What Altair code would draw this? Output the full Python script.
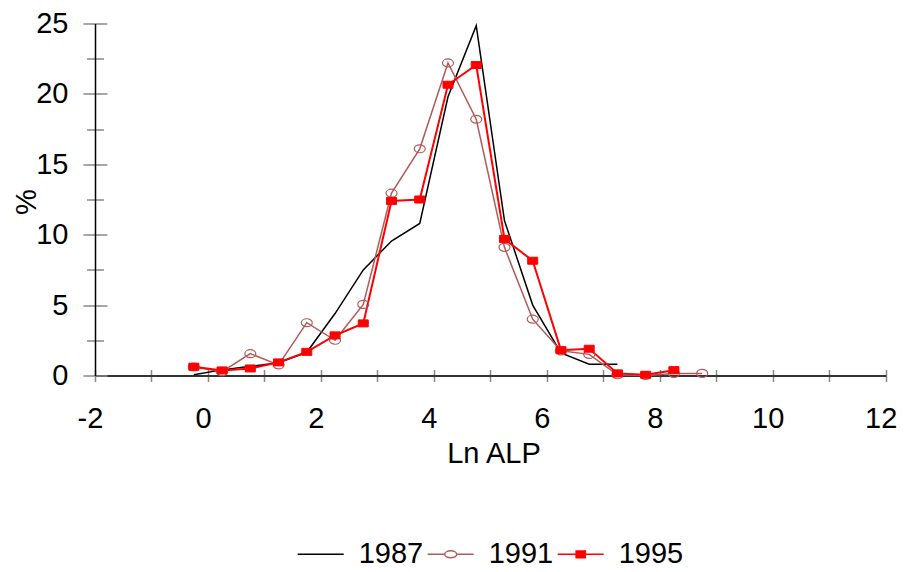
import altair as alt
import pandas as pd

# ---- data ----
ln_alp = [-0.25, 0.25, 0.75, 1.25, 1.75, 2.25, 2.75, 3.25, 3.75, 4.25,
          4.75, 5.25, 5.75, 6.25, 6.75, 7.25, 7.75, 8.25, 8.75]

pct_1987 = [0.05, 0.4, 0.65, 0.9, 1.65, 4.4, 7.5, 9.55, 10.8, 19.8,
            24.85, 11.0, 5.0, 1.6, 0.8, 0.8]
pct_1991 = [0.6, 0.27, 1.55, 0.75, 3.75, 2.5, 5.05, 12.95, 16.1, 22.2,
            18.2, 9.1, 4.0, 1.75, 1.5, 0.05, 0.0, 0.15, 0.15]
pct_1995 = [0.62, 0.36, 0.5, 0.93, 1.68, 2.85, 3.7, 12.4, 12.5, 20.65,
            22.05, 9.7, 8.15, 1.8, 1.9, 0.15, 0.05, 0.38]

years = ["1987", "1991", "1995"]
x_label_values = [-2, 0, 2, 4, 6, 8, 10, 12]
x_tick_values = list(range(-2, 13))
y_major_values = [0, 5, 10, 15, 20, 25]
y_minor_values = [2.5, 7.5, 12.5, 17.5, 22.5]

rows = []
for yr, vals in zip(years, [pct_1987, pct_1991, pct_1995]):
    for xv, yv in zip(ln_alp, vals):
        rows.append({"year": yr, "x": xv, "pct": yv})
df = pd.DataFrame(rows)

FONT = "Liberation Sans"
BROWN = "#b35959"
XS = alt.Scale(domain=[-2, 12], nice=False, zero=False)
YS = alt.Scale(domain=[0, 25], nice=False, zero=False)

ELLIPSE = "M-1,0A1,0.72,0,1,0,1,0A1,0.72,0,1,0,-1,0Z"
RECT = "M-1,-0.7H1V0.7H-1Z"

base = alt.Chart(df)

main_x_axis = alt.Axis(values=x_label_values, orient="bottom", ticks=False, tickSize=0,
                       grid=False, domainColor="#333333", domainWidth=2,
                       labelFont=FONT, labelFontSize=29, labelColor="black",
                       labelExpr="'' + datum.value",
                       labelPadding=29, labelOffset=-5, labelFlush=False, labelOverlap=False,
                       title="Ln ALP", titleFont=FONT, titleFontSize=29,
                       titleFontWeight="normal", titleColor="black",
                       titleX=398.5, titleY=87, titleBaseline="alphabetic", titleAlign="center")
main_y_axis = alt.Axis(values=y_major_values, orient="left", ticks=False, tickSize=0,
                       grid=False, domainColor="black", domainWidth=1.5,
                       labelFont=FONT, labelFontSize=29, labelColor="black",
                       labelPadding=27, labelFlush=False, labelOverlap=False,
                       title="%", titleFont=FONT, titleFontSize=29,
                       titleFontWeight="normal", titleColor="black", titleAngle=270,
                       titleX=-68.5, titleY=178, titleBaseline="middle", titleAlign="center")

line87 = base.transform_filter(alt.datum.year == "1987").mark_line(
    color="black", strokeWidth=1.5).encode(
    x=alt.X("x:Q", scale=XS, axis=main_x_axis),
    y=alt.Y("pct:Q", scale=YS, axis=main_y_axis))

line91 = base.transform_filter(alt.datum.year == "1991").mark_line(
    color=BROWN, strokeWidth=1.5).encode(
    x=alt.X("x:Q", scale=XS, axis=None),
    y=alt.Y("pct:Q", scale=YS, axis=None))

line95 = base.transform_filter(alt.datum.year == "1995").mark_line(
    color="red", strokeWidth=2).encode(
    x=alt.X("x:Q", scale=XS, axis=None),
    y=alt.Y("pct:Q", scale=YS, axis=None))

pts91 = base.transform_filter(alt.datum.year == "1991").mark_point(
    shape=ELLIPSE, size=121, filled=False, stroke=BROWN, strokeWidth=1.2, opacity=1).encode(
    x=alt.X("x:Q", scale=XS, axis=None),
    y=alt.Y("pct:Q", scale=YS, axis=None))

pts95 = base.transform_filter(alt.datum.year == "1995").mark_point(
    shape=RECT, size=100, filled=True, fill="red", stroke="red", strokeWidth=1, opacity=1).encode(
    x=alt.X("x:Q", scale=XS, axis=None),
    y=alt.Y("pct:Q", scale=YS, axis=None))

ticks_major = base.transform_filter("false").mark_line().encode(
    x=alt.X("x:Q", scale=XS, axis=alt.Axis(values=x_tick_values, orient="bottom", domain=False,
                                           labels=False, title=None, grid=False, ticks=True,
                                           tickSize=12, offset=-6, tickColor="#888888",
                                           tickWidth=1.5)),
    y=alt.Y("pct:Q", scale=YS, axis=alt.Axis(values=y_major_values, orient="left", domain=False,
                                             labels=False, title=None, grid=False, ticks=True,
                                             tickSize=24, offset=-12, tickColor="#888888",
                                             tickWidth=1.5)))

ticks_minor = base.transform_filter("false").mark_line().encode(
    x=alt.X("x:Q", scale=XS, axis=None),
    y=alt.Y("pct:Q", scale=YS, axis=alt.Axis(values=y_minor_values, orient="left", domain=False,
                                             labels=False, title=None, grid=False, ticks=True,
                                             tickSize=17, offset=-8.5, tickColor="#888888",
                                             tickWidth=1.5)))

leg = alt.Legend(orient="none", legendX=201.7, legendY=506.8, direction="horizontal",
                 title=None, symbolSize=2116, symbolStrokeWidth=1.5, symbolOpacity=1,
                 labelFont=FONT, labelFontSize=29, labelColor="black", labelOffset=14,
                 columnPadding=1, padding=0)

legend_shapes = ["M-1,0H1",
                 "M-1,0H-0.26M0.26,0H1M-0.26,0A0.26,0.15,0,1,0,0.26,0A0.26,0.15,0,1,0,-0.26,0Z",
                 "M-1,0H1M-0.2,-0.145H0.2V0.145H-0.2Z"]

legend_layer = base.transform_filter("false").mark_point(filled=True, opacity=1).encode(
    stroke=alt.Stroke("year:N", scale=alt.Scale(domain=years, range=["black", BROWN, "red"]), legend=leg),
    fill=alt.Fill("year:N", scale=alt.Scale(domain=years, range=["transparent", "white", "red"]), legend=leg),
    shape=alt.Shape("year:N", scale=alt.Scale(domain=years, range=legend_shapes), legend=leg))

chart = alt.layer(ticks_major, ticks_minor, line87, line91, line95, pts91, pts95, legend_layer).resolve_axis(
    x="independent", y="independent"
).properties(
    width=790.7, height=352,
    padding={"left": 95, "top": 23.5, "right": 19.3, "bottom": 196.5},
    autosize="none",
    background="white",
).configure_view(stroke=None)

chart.save("out.html", embed_options={"renderer": "svg", "actions": False})
